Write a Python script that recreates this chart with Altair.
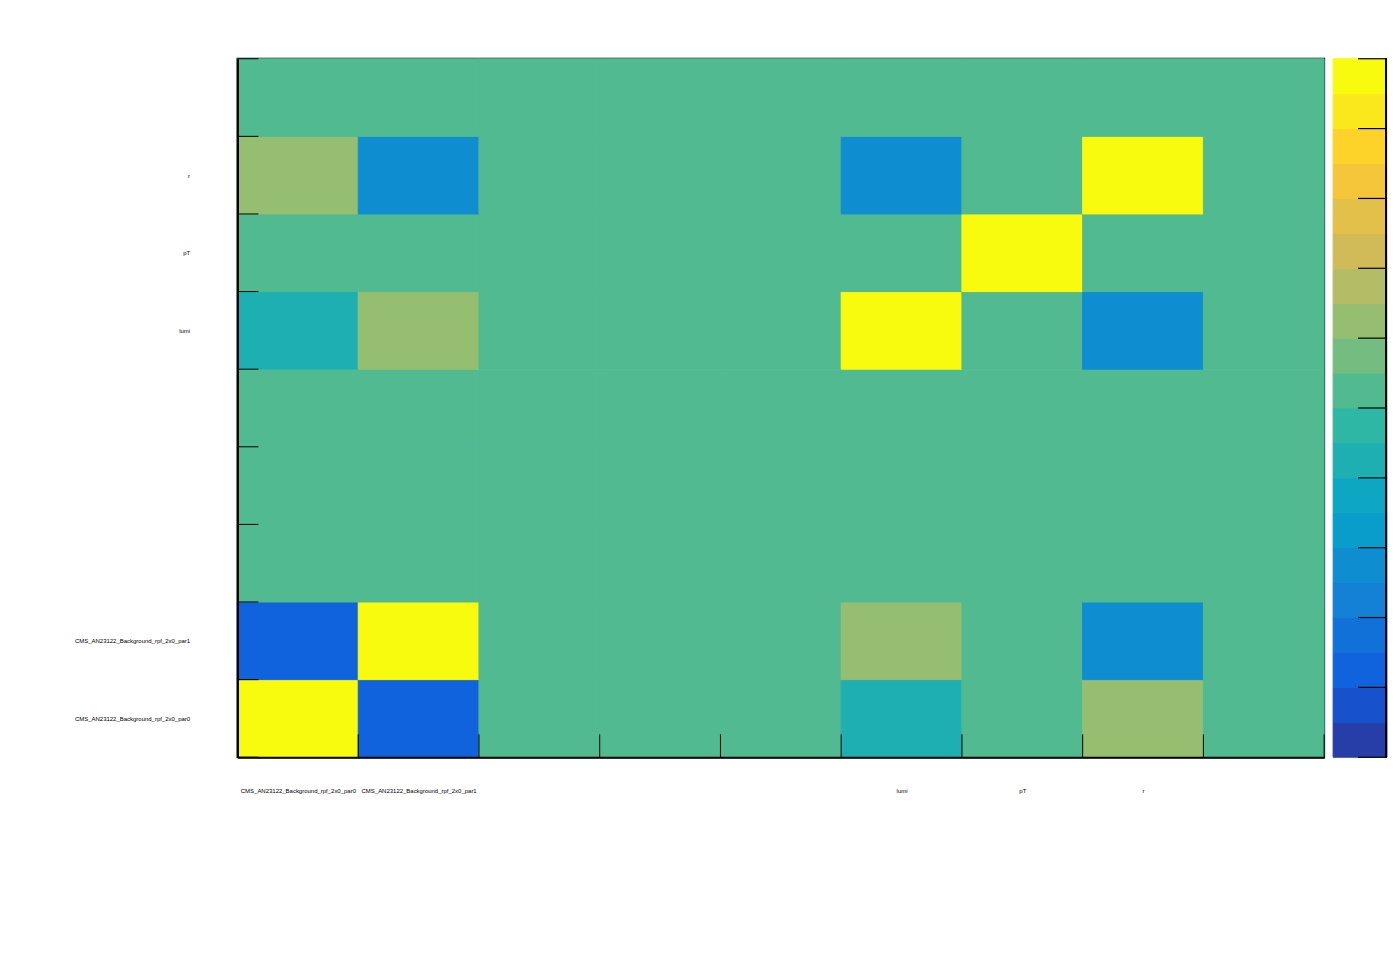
import json
import numpy as np
import pandas as pd
import altair as alt

# bin labels (same on both axes); unnamed bins are empty
labels = ["CMS_AN23122_Background_rpf_2x0_par0", "CMS_AN23122_Background_rpf_2x0_par1",
          "", "", "", "lumi", "pT", "r", ""]

# correlation rows, bottom to top; columns left to right
row_par0 = [1.0, -0.76, 0.0, 0.0, 0.0, -0.15, 0.0, 0.25, 0.0]
row_par1 = [-0.76, 1.0, 0.0, 0.0, 0.0, 0.25, 0.0, -0.45, 0.0]
row_e1 = [0.0, 0.0, 0.0, 0.0, 0.0, 0.0, 0.0, 0.0, 0.0]
row_e2 = [0.0, 0.0, 0.0, 0.0, 0.0, 0.0, 0.0, 0.0, 0.0]
row_e3 = [0.0, 0.0, 0.0, 0.0, 0.0, 0.0, 0.0, 0.0, 0.0]
row_lumi = [-0.15, 0.25, 0.0, 0.0, 0.0, 1.0, 0.0, -0.45, 0.0]
row_pT = [0.0, 0.0, 0.0, 0.0, 0.0, 0.0, 1.0, 0.0, 0.0]
row_r = [0.25, -0.45, 0.0, 0.0, 0.0, -0.45, 0.0, 1.0, 0.0]
row_e4 = [0.0, 0.0, 0.0, 0.0, 0.0, 0.0, 0.0, 0.0, 0.0]
rows = [row_par0, row_par1, row_e1, row_e2, row_e3, row_lumi, row_pT, row_r, row_e4]

# ROOT kBird palette, 20 contours
stops = [0.0, 0.125, 0.25, 0.375, 0.5, 0.625, 0.75, 0.875, 1.0]
red = [0.2082, 0.0592, 0.0780, 0.0232, 0.1802, 0.5301, 0.8186, 0.9956, 0.9764]
green = [0.1664, 0.3599, 0.5041, 0.6419, 0.7178, 0.7492, 0.7328, 0.7862, 0.9832]
blue = [0.5293, 0.8684, 0.8385, 0.7914, 0.6425, 0.4662, 0.3499, 0.1968, 0.0539]
palette = []
for i in range(20):
    f = int((i + 0.99) * 255 / 20) / 254.0
    r = int(round(np.interp(f, stops, red) * 255))
    g = int(round(np.interp(f, stops, green) * 255))
    b = int(round(np.interp(f, stops, blue) * 255))
    palette.append("#%02x%02x%02x" % (r, g, b))

cells = []
for i, row in enumerate(rows):
    for j, v in enumerate(row):
        cells.append({"x0": j, "x1": j + 1, "y0": i, "y1": i + 1, "value": v})
df = pd.DataFrame(cells)
xedges = pd.DataFrame({"x0": list(range(10))})
yedges = pd.DataFrame({"y0": list(range(10))})

color_scale = alt.Scale(type="quantize", domain=[-1, 1], range=palette, nice=False, zero=False)
label_expr = json.dumps(labels) + "[floor(datum.value)]"
centers = [j + 0.5 for j in range(9)]
FONT = "Liberation Sans"

xaxis = alt.Axis(values=centers, labelExpr=label_expr, ticks=False, grid=False, domain=True,
                 domainColor="black", domainWidth=2, labelFont=FONT, labelFontSize=6,
                 labelColor="black", labelPadding=30, labelOverlap=False, labelFlush=False,
                 labelBound=False, labelAngle=0, title=None, zindex=1)
yaxis = alt.Axis(values=centers, labelExpr=label_expr, ticks=False, grid=False, domain=True,
                 domainColor="black", domainWidth=2, labelFont=FONT, labelFontSize=6,
                 labelColor="black", labelPadding=48, labelOverlap=False, labelFlush=False,
                 labelBound=False, labelBaseline="middle", title=None, zindex=1,
                 minExtent=229, maxExtent=229)

xs = alt.Scale(domain=[0, 9], nice=False, zero=False)
ys = alt.Scale(domain=[0, 9], nice=False, zero=False)

W, H = 1089, 700

cells_layer = alt.Chart(df).mark_rect(strokeWidth=1).encode(
    x=alt.X("x0:Q", scale=xs, axis=xaxis),
    x2="x1:Q",
    y=alt.Y("y0:Q", scale=ys, axis=yaxis),
    y2="y1:Q",
    color=alt.Color("value:Q", scale=color_scale, legend=None),
    stroke=alt.Stroke("value:Q", scale=color_scale, legend=None),
)
xticks = alt.Chart(xedges).mark_rule(color="black", strokeWidth=1).encode(
    x=alt.X("x0:Q", scale=xs, axis=xaxis),
    y=alt.value(H - 23), y2=alt.value(H),
)
yticks = alt.Chart(yedges).mark_rule(color="black", strokeWidth=1).encode(
    y=alt.Y("y0:Q", scale=ys, axis=yaxis),
    x=alt.value(0), x2=alt.value(21),
)
heat = alt.layer(cells_layer, xticks, yticks).properties(
    width=W, height=H,
    view=alt.ViewBackground(stroke="black", strokeWidth=2),
)

segs = pd.DataFrame({
    "lo": [-1 + 0.1 * i for i in range(20)],
    "hi": [-1 + 0.1 * (i + 1) for i in range(20)],
})
segs["value"] = segs["lo"] + 0.05
cticks = pd.DataFrame({"lo": [-1 + 0.2 * i for i in range(11)]})
cs = alt.Scale(domain=[-1, 1], nice=False, zero=False)
CW = 54
cbar_rects = alt.Chart(segs).mark_rect(strokeWidth=1).encode(
    y=alt.Y("lo:Q", scale=cs, axis=None),
    y2="hi:Q",
    x=alt.value(0), x2=alt.value(CW),
    color=alt.Color("value:Q", scale=color_scale, legend=None),
    stroke=alt.Stroke("value:Q", scale=color_scale, legend=None),
)
cbar_ticks = alt.Chart(cticks).mark_rule(color="black", strokeWidth=1.2).encode(
    y=alt.Y("lo:Q", scale=cs, axis=None),
    x=alt.value(CW - 29), x2=alt.value(CW),
)
cbar_edge = alt.Chart(cticks).mark_rule(color="black", strokeWidth=1.5).encode(
    x=alt.value(CW - 0.75), y=alt.value(0), y2=alt.value(H),
)
cbar = alt.layer(cbar_rects, cbar_ticks, cbar_edge).properties(
    width=CW, height=H,
    view=alt.ViewBackground(strokeWidth=0),
)

chart = alt.hconcat(heat, cbar, spacing=6).resolve_scale(
    x="independent", y="independent", color="shared", stroke="shared"
).properties(
    padding={"left": 0, "top": 48, "right": 0, "bottom": 0},
    background="white",
).configure_view(strokeWidth=0)

chart.save("out.html", embed_options={"renderer": "svg", "actions": False})
